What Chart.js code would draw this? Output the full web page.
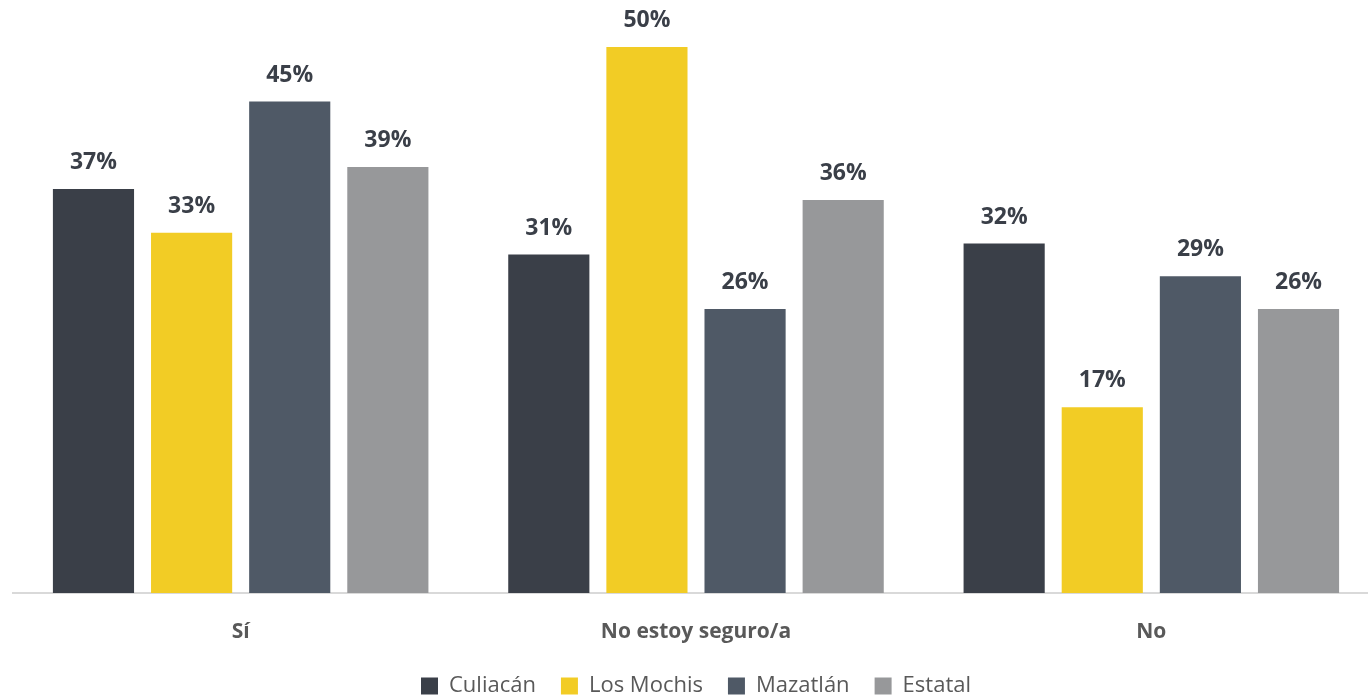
<!DOCTYPE html>
<html>
<head>
<meta charset="utf-8">
<script src="https://cdn.jsdelivr.net/npm/chart.js@4"></script>
<style>
  html, body { margin: 0; padding: 0; background: #fff; overflow: hidden; }
  #wrap { width: 1380px; height: 707px; }
</style>
</head>
<body>
<div id="wrap"><canvas id="chartCanvas"></canvas></div>
<script>
const categories = ["Sí", "No estoy seguro/a", "No"];
const seriesNames = ["Culiacán", "Los Mochis", "Mazatlán", "Estatal"];
const culiacan = [37, 31, 32];
const losMochis = [33, 50, 17];
const mazatlan = [45, 26, 29];
const estatal = [39, 36, 26];
const colors = ["#3A3F48", "#F2CC25", "#4F5966", "#97989A"];

// etiquetas de porcentaje encima de cada barra
const barLabels = {
    id: "barLabels",
    afterDatasetsDraw(chart) {
        const ctx = chart.ctx;
        ctx.save();
        ctx.font = "bold 23px 'Open Sans'";
        ctx.fillStyle = "#3A3F48";
        ctx.textAlign = "center";
        ctx.textBaseline = "bottom";
        chart.data.datasets.forEach((ds, i) => {
            chart.getDatasetMeta(i).data.forEach((bar, j) => {
                ctx.fillText(ds.data[j] + "%", bar.x, bar.y - 15);
            });
        });
        ctx.restore();
    }
};

const ctx = document.getElementById("chartCanvas").getContext("2d");
new Chart(ctx, {
    type: "bar",
    data: {
        labels: categories,
        datasets: [culiacan, losMochis, mazatlan, estatal].map((d, i) => ({
            label: seriesNames[i],
            data: d,
            backgroundColor: colors[i],
            barPercentage: 0.827,
            categoryPercentage: 0.862
        }))
    },
    options: {
        responsive: true,
        maintainAspectRatio: false,
        animation: false,
        layout: { padding: { top: 47, left: 13, right: 1, bottom: 0 } },
        plugins: {
            legend: {
                position: "bottom",
                labels: {
                    boxWidth: 17,
                    boxHeight: 17,
                    padding: 25,
                    color: "#595959",
                    font: { size: 22, family: "'Open Sans'" }
                }
            },
            tooltip: { enabled: false }
        },
        scales: {
            x: {
                grid: { display: false },
                border: { color: "#D9D9D9", width: 2 },
                ticks: {
                    color: "#595959",
                    padding: 18,
                    font: { size: 21, weight: "bold", family: "'Open Sans'" }
                },
                afterFit(scale) { scale.height = 57; }
            },
            y: {
                display: false,
                min: 0,
                max: 50
            }
        }
    },
    plugins: [barLabels]
});
</script>
</body>
</html>
